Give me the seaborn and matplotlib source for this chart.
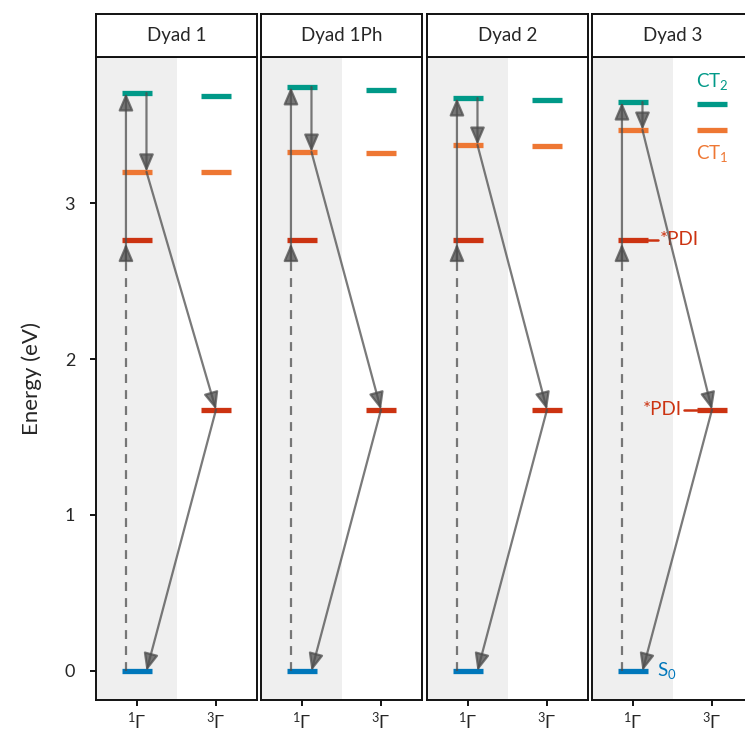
import matplotlib
matplotlib.use("Agg")
import matplotlib.pyplot as plt
import numpy as np
import pandas as pd
import seaborn as sns

# ---------------- data ----------------
dyads = ["Dyad 1", "Dyad 1Ph", "Dyad 2", "Dyad 3"]
spin_positions = [1, 2]
spin_labels = [r"$^{1}\Gamma$", r"$^{3}\Gamma$"]
ct2_singlet = [3.705, 3.744, 3.673, 3.647]
ct2_triplet = [3.686, 3.724, 3.660, 3.635]
ct1_singlet = [3.200, 3.327, 3.372, 3.468]
ct1_triplet = [3.200, 3.320, 3.365, 3.468]
pdi_singlet = [2.763, 2.763, 2.763, 2.763]
pdi_triplet = [1.675, 1.675, 1.675, 1.675]
s0_energy = [0.0, 0.0, 0.0, 0.0]
absorption_top = [2.74, 2.74, 2.74, 2.74]
absorption_break = [2.63, 2.63, 2.63, 2.63]
y_ticks = [0, 1, 2, 3]

colors = {"CT2": "#009988", "CT1": "#EE7733", "PDI": "#CC3311", "S0": "#0077BB"}
arrow_color = "#4d4d4d"

levels = pd.DataFrame({
    "dyad": np.repeat(dyads, 7),
    "state": ["CT2", "CT2", "CT1", "CT1", "PDI", "PDI", "S0"] * 4,
    "spin": [1, 2, 1, 2, 1, 2, 1] * 4,
    "energy": np.ravel(np.column_stack([ct2_singlet, ct2_triplet, ct1_singlet, ct1_triplet,
                                         pdi_singlet, pdi_triplet, s0_energy])),
})

# ---------------- style ----------------
sns.set_theme(style="white")
plt.rcParams["font.family"] = ["Lato", "DejaVu Sans"]
plt.rcParams["mathtext.fontset"] = "dejavusans"
plt.rcParams["mathtext.default"] = "regular"

W, H = 745, 733
fig = plt.figure(figsize=(W / 100, H / 100), dpi=100)

lefts = [96, 261, 427, 592]
pw = 161
top, bottom = 57, 700
strip_top = 14

half = 0.19
up_x, down_x = 0.86, 1.12
xlim = (0.481, 2.519)
ylim = (-0.186, 3.936)

def arrow(ax, xy, xytext):
    ax.annotate("", xy=xy, xytext=xytext,
                arrowprops=dict(arrowstyle="-|>,head_length=0.75,head_width=0.32",
                                mutation_scale=14, color=arrow_color, alpha=0.75,
                                lw=1.6, shrinkA=0, shrinkB=0), zorder=5)

for i, (d, l) in enumerate(zip(dyads, lefts)):
    ax = fig.add_axes([l / W, (H - bottom) / H, pw / W, (bottom - top) / H])
    ax.set_xlim(*xlim)
    ax.set_ylim(*ylim)
    ax.axvspan(xlim[0], 1.5, color="#efefef", lw=0, zorder=0)

    sub = levels[levels["dyad"] == d]
    for _, r in sub.iterrows():
        ax.hlines(r["energy"], r["spin"] - half, r["spin"] + half,
                  color=colors[r["state"]], lw=3.8, zorder=3)

    # arrows
    ax.plot([up_x, up_x], [s0_energy[i], absorption_break[i]], ls=(0, (4, 3.2)),
            color=arrow_color, alpha=0.75, lw=1.6, zorder=4)
    arrow(ax, (up_x, ct2_singlet[i]), (up_x, absorption_break[i]))
    arrow(ax, (up_x, absorption_top[i]), (up_x, absorption_break[i]))
    arrow(ax, (down_x, ct1_singlet[i]), (down_x, ct2_singlet[i]))
    arrow(ax, (2, pdi_triplet[i]), (down_x, ct1_singlet[i]))
    arrow(ax, (down_x, s0_energy[i]), (2, pdi_triplet[i]))

    ax.set_xticks(spin_positions)
    ax.set_xticklabels(spin_labels, fontsize=13)
    ax.set_yticks(y_ticks)
    if i == 0:
        ax.set_yticklabels([str(t) for t in y_ticks], fontsize=13)
        ax.set_ylabel("Energy (eV)", fontsize=16, labelpad=16)
        ax.tick_params(axis="y", left=True, length=4, width=1.3, color="black", pad=11)
    else:
        ax.tick_params(axis="y", left=False, labelleft=False)
    ax.tick_params(axis="x", bottom=True, length=4, width=1.3, color="black", pad=4)
    for s in ax.spines.values():
        s.set_color("#111111")
        s.set_linewidth(1.4)
    ax.grid(False)

    if i == 3:
        ax.text(2.0, 3.78, r"CT$_2$", color=colors["CT2"], fontsize=13.5, ha="center", va="center")
        ax.text(2.0, 3.32, r"CT$_1$", color=colors["CT1"], fontsize=13.5, ha="center", va="center")
        ax.plot([1 + half, 1.32], [pdi_singlet[i]] * 2, color=colors["PDI"], lw=1.8, zorder=3)
        ax.text(1.34, pdi_singlet[i], "*PDI", color=colors["PDI"], fontsize=13.5, ha="left", va="center")
        ax.plot([1.64, 2 - half], [pdi_triplet[i]] * 2, color=colors["PDI"], lw=1.8, zorder=3)
        ax.text(1.62, pdi_triplet[i], "*PDI", color=colors["PDI"], fontsize=13.5, ha="right", va="center")
        ax.text(1.31, s0_energy[i], r"S$_0$", color=colors["S0"], fontsize=13.5, ha="left", va="center")

    # strip
    sx = fig.add_axes([l / W, (H - top) / H, pw / W, (top - strip_top) / H])
    sx.set_xticks([]); sx.set_yticks([])
    sx.set_facecolor("white")
    for s in sx.spines.values():
        s.set_color("#111111")
        s.set_linewidth(1.4)
    sx.text(0.5, 0.5, d, transform=sx.transAxes, ha="center", va="center", fontsize=13.5)

fig.savefig("out.png", dpi=100)
